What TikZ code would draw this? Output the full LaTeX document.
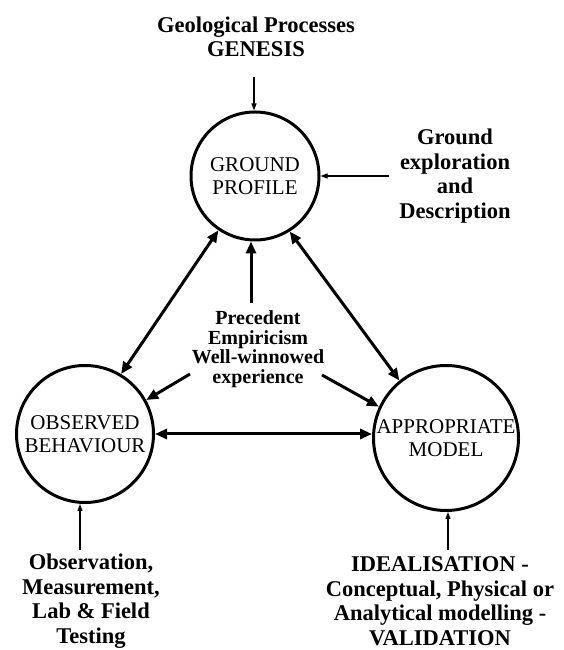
\documentclass[tikz,border=0pt]{standalone}
\usepackage{fontspec}
\setmainfont{Liberation Serif}
\usetikzlibrary{arrows.meta}
\begin{document}
\begin{tikzpicture}[x=1pt,y=1pt,
  circ/.style={circle,draw,line width=3pt,inner sep=0pt,align=center,font=\fontsize{21}{23}\selectfont},
  lbl/.style={inner sep=0pt,align=center,font=\fontsize{22.5}{24.5}\selectfont\bfseries},
  ctext/.style={inner sep=0pt,align=center,font=\fontsize{20}{19.5}\selectfont\bfseries},
  thk/.style={line width=3pt,-{Triangle[length=12pt,width=10pt]}},
  dbl/.style={line width=3pt,{Triangle[length=12pt,width=10pt]}-{Triangle[length=12pt,width=10pt]}},
  thn/.style={line width=1.2pt,-{Triangle[length=7pt,width=5pt]}}]
\useasboundingbox[fill=white] (0,0) rectangle (563,650);
% circles
\node[circ,minimum size=128pt] (g) at (255,474) {GROUND\\PROFILE};
\node[circ,minimum size=137pt] (o) at (85,216) {OBSERVED\\BEHAVIOUR};
\node[circ,minimum size=145pt] (a) at (446,212) {\makebox[0pt]{APPROPRIATE}\\MODEL};
% centre text
\node[ctext] (c) at (258,301) {Precedent\\Empiricism\\Well-winnowed\\experience};
% labels
\node[lbl] (gen) at (256,613) {Geological Processes\\GENESIS};
\node[lbl] (ge) at (455,474) {Ground\\exploration\\and\\Description};
\node[lbl] (obs) at (91,49) {Observation,\\Measurement,\\Lab \& Field\\Testing};
\node[lbl] (ide) at (440,49) {IDEALISATION -\\Conceptual, Physical or\\Analytical modelling -\\VALIDATION};
% thick connectors
\coordinate (vs) at (251,347);
\draw[thk] (vs) -- (vs |- g.south);
\coordinate (cl) at (190,276);
\draw[thk] (cl) -- (o.29.6);
\coordinate (cr) at (322,275);
\draw[thk] (cr) -- (a.155.5);
\draw[dbl] (g.236.7) -- (o.59);
\draw[dbl] (g.302.8) -- (a.129.7);
\draw[dbl] (o.east) -- (o.east -| a.west);
% thin connectors
\coordinate (gs) at (254,573);
\draw[thn] (gs) -- (gs |- g.north);
\draw[thn] ([xshift=-10pt]ge.west) -- (g.east);
\coordinate (ob) at (80,100);
\draw[thn] (ob) -- (ob |- o.south);
\coordinate (ib) at (448,100);
\draw[thn] (ib) -- (ib |- a.south);
\end{tikzpicture}
\end{document}
